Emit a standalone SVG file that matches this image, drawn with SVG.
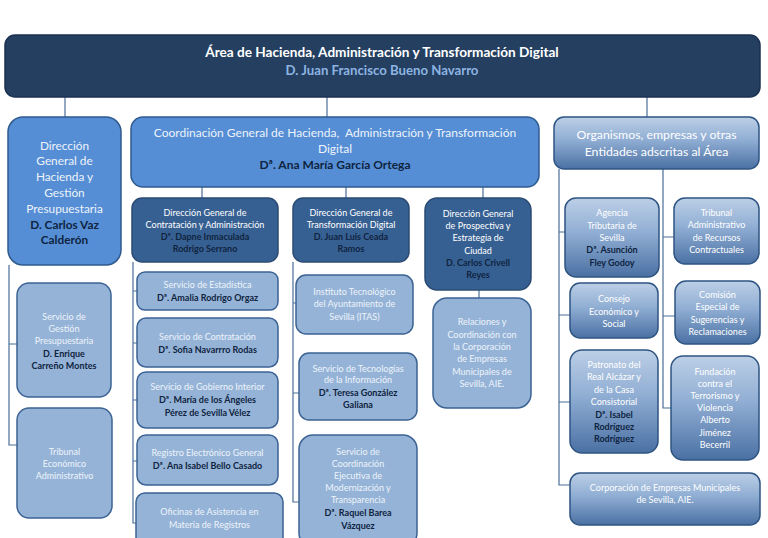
<svg xmlns="http://www.w3.org/2000/svg" width="768" height="538" viewBox="0 0 768 538">
<defs>
<linearGradient id="gloss" x1="0" y1="0" x2="0" y2="1">
<stop offset="0" stop-color="#BCCFE6"/>
<stop offset="0.45" stop-color="#8FADD3"/>
<stop offset="1" stop-color="#4A70A3"/>
</linearGradient>
<style>
text{font-family:Lato,"Open Sans","Liberation Sans",sans-serif;text-anchor:middle}
.top{fill:#243F60;stroke:#1B3150;stroke-width:1.5}
.mid{fill:#558ED5;stroke:#2F5A8E;stroke-width:1.5}
.dg{fill:#376092;stroke:#2A4B73;stroke-width:1.5}
.sv{fill:#95B3D7;stroke:#3B6394;stroke-width:1.5}
.gl{fill:url(#gloss);stroke:#2E5482;stroke-width:1.5}
.lt{fill:#EEF3FA}
.wt{fill:#FFFFFF}
.nm{fill:#0F2440;font-weight:bold}
.s9{font-size:9px}
.s11{font-size:12px}
.s12{font-size:11.8px}
.s12o{font-size:12.3px}
#connectors path{fill:none;stroke:#4A6E98;stroke-width:1.2}
</style>
</defs>
<rect width="768" height="538" fill="#FFFFFF"/>

<g id="connectors">
<path d="M65 97V117"/>
<path d="M327 97V117"/>
<path d="M647 97V117"/>
<path d="M9 265V445H17M9 344H17"/>
<path d="M202 187V198M346 187V198M483 187V198"/>
<path d="M133 262V523H137M133 291H137M133 343H137M133 400H137M133 461H137"/>
<path d="M293 262V502H299M293 303H296M293 393H299"/>
<path d="M479 290V298"/>
<path d="M559 169V485H570M559 232H565M559 315H570M559 402H570"/>
<path d="M663 169V408H671M663 237H674M663 316H675"/>
</g>

<g id="area">
<rect class="top" x="5" y="35" width="755" height="62" rx="10"/>
<text x="382" y="57" class="wt" style="font-size:13.6px;font-weight:bold">Área de Hacienda, Administración y Transformación Digital</text>
<text x="382" y="75" style="font-size:13.2px;font-weight:bold;fill:#8DB4E2">D. Juan Francisco Bueno Navarro</text>
</g>

<g id="dg-hacienda">
<rect class="mid" x="8" y="117" width="113" height="148" rx="15"/>
<text class="lt s12" x="64.5" y="150">Dirección</text>
<text class="lt s12" x="64.5" y="165">General de</text>
<text class="lt s12" x="64.5" y="181">Hacienda y</text>
<text class="lt s12" x="64.5" y="197">Gestión</text>
<text class="lt s12" x="64.5" y="213">Presupuestaria</text>
<text class="nm s12" x="64.5" y="229">D. Carlos Vaz</text>
<text class="nm s12" x="64.5" y="244">Calderón</text>
</g>

<g id="coordinacion">
<rect class="mid" x="131" y="117" width="408" height="70" rx="12"/>
<text class="lt s11" x="335" y="137" xml:space="preserve">Coordinación General de Hacienda,  Administración y Transformación</text>
<text class="lt s11" x="335" y="153">Digital</text>
<text class="nm s11" x="335" y="169">Dª. Ana María García Ortega</text>
</g>

<g id="organismos">
<rect class="gl" x="554" y="117" width="205" height="52" rx="10"/>
<text class="wt s12o" x="656.5" y="139">Organismos, empresas y otras</text>
<text class="wt s12o" x="656.5" y="156">Entidades adscritas al Área</text>
</g>

<g id="servicio-gestion">
<rect class="sv" x="17" y="283" width="94" height="114" rx="12"/>
<text class="lt s9" x="64" y="320">Servicio de</text>
<text class="lt s9" x="64" y="332">Gestión</text>
<text class="lt s9" x="64" y="344">Presupuestaria</text>
<text class="nm s9" x="64" y="357">D. Enrique</text>
<text class="nm s9" x="64" y="369">Carreño Montes</text>
</g>

<g id="tribunal-economico">
<rect class="sv" x="17" y="408" width="95" height="110" rx="12"/>
<text class="lt s9" x="64.5" y="455">Tribunal</text>
<text class="lt s9" x="64.5" y="467">Económico</text>
<text class="lt s9" x="64.5" y="479">Administrativo</text>
</g>

<g id="dg-contratacion">
<rect class="dg" x="132" y="198" width="146" height="64" rx="10"/>
<text class="wt s9" x="205" y="216">Dirección General de</text>
<text class="wt s9" x="205" y="228">Contratación y Administración</text>
<text class="nm s9" x="205" y="240">Dª. Dapne Inmaculada</text>
<text class="nm s9" x="205" y="252">Rodrigo Serrano</text>
</g>

<g id="dg-transformacion">
<rect class="dg" x="293" y="198" width="116" height="64" rx="10"/>
<text class="wt s9" x="351" y="216">Dirección General de</text>
<text class="wt s9" x="351" y="228">Transformación Digital</text>
<text class="nm s9" x="351" y="240">D. Juan Luis Ceada</text>
<text class="nm s9" x="351" y="252">Ramos</text>
</g>

<g id="dg-prospectiva">
<rect class="dg" x="425" y="198" width="106" height="92" rx="12"/>
<text class="wt s9" x="478" y="217">Dirección General</text>
<text class="wt s9" x="478" y="229">de Prospectiva y</text>
<text class="wt s9" x="478" y="241">Estrategia de</text>
<text class="wt s9" x="478" y="254">Ciudad</text>
<text class="nm s9" x="478" y="266">D. Carlos Crivell</text>
<text class="nm s9" x="478" y="278">Reyes</text>
</g>

<g id="servicio-estadistica">
<rect class="sv" x="137" y="272" width="141" height="38" rx="8"/>
<text class="lt s9" x="207.5" y="288">Servicio de Estadística</text>
<text class="nm s9" x="207.5" y="301">Dª. Amalia Rodrigo Orgaz</text>
</g>

<g id="servicio-contratacion">
<rect class="sv" x="137" y="318" width="141" height="49" rx="9"/>
<text class="lt s9" x="207.5" y="340">Servicio de Contratación</text>
<text class="nm s9" x="207.5" y="353">Dª. Sofia Navarrro Rodas</text>
</g>

<g id="servicio-gobierno">
<rect class="sv" x="137" y="372" width="141" height="56" rx="9"/>
<text class="lt s9" x="207.5" y="390">Servicio de Gobierno Interior</text>
<text class="nm s9" x="207.5" y="403">Dª. María de los Ángeles</text>
<text class="nm s9" x="207.5" y="416">Pérez de Sevilla Vélez</text>
</g>

<g id="registro">
<rect class="sv" x="137" y="435" width="141" height="50" rx="9"/>
<text class="lt s9" x="207.5" y="456">Registro Electrónico General</text>
<text class="nm s9" x="207.5" y="469">Dª. Ana Isabel Bello Casado</text>
</g>

<g id="oficinas">
<rect class="sv" x="136" y="493" width="147" height="56" rx="9"/>
<text class="lt s9" x="209.5" y="515">Oficinas de Asistencia en</text>
<text class="lt s9" x="209.5" y="528">Materia de Registros</text>
</g>

<g id="itas">
<rect class="sv" x="296" y="275" width="117" height="59" rx="10"/>
<text class="lt s9" x="354.5" y="295">Instituto Tecnológico</text>
<text class="lt s9" x="354.5" y="307">del Ayuntamiento de</text>
<text class="lt s9" x="354.5" y="320">Sevilla (ITAS)</text>
</g>

<g id="servicio-tecnologias">
<rect class="sv" x="299" y="353" width="118" height="67" rx="10"/>
<text class="lt s9" x="358" y="372">Servicio de Tecnologías</text>
<text class="lt s9" x="358" y="383">de la Información</text>
<text class="nm s9" x="358" y="396">Dª. Teresa González</text>
<text class="nm s9" x="358" y="408">Galiana</text>
</g>

<g id="servicio-coordinacion">
<rect class="sv" x="299" y="435" width="118" height="112" rx="14"/>
<text class="lt s9" x="358" y="455">Servicio de</text>
<text class="lt s9" x="358" y="467">Coordinación</text>
<text class="lt s9" x="358" y="479">Ejecutiva de</text>
<text class="lt s9" x="358" y="491">Modernización y</text>
<text class="lt s9" x="358" y="503">Transparencia</text>
<text class="nm s9" x="358" y="516">Dª. Raquel Barea</text>
<text class="nm s9" x="358" y="529">Vázquez</text>
</g>

<g id="relaciones">
<rect class="sv" x="433" y="298" width="98" height="110" rx="14"/>
<text class="lt s9" x="482" y="325">Relaciones y</text>
<text class="lt s9" x="482" y="338">Coordinación con</text>
<text class="lt s9" x="482" y="350">la Corporación</text>
<text class="lt s9" x="482" y="362">de Empresas</text>
<text class="lt s9" x="482" y="375">Municipales de</text>
<text class="lt s9" x="482" y="387">Sevilla, AIE.</text>
</g>

<g id="agencia-tributaria">
<rect class="gl" x="565" y="198" width="94" height="79" rx="11"/>
<text class="wt s9" x="612" y="216">Agencia</text>
<text class="wt s9" x="612" y="229">Tributaria de</text>
<text class="wt s9" x="612" y="241">Sevilla</text>
<text class="nm s9" x="612" y="253">Dª. Asunción</text>
<text class="nm s9" x="612" y="266">Fley Godoy</text>
</g>

<g id="tribunal-administrativo">
<rect class="gl" x="674" y="198" width="85" height="66" rx="11"/>
<text class="wt s9" x="716.5" y="216">Tribunal</text>
<text class="wt s9" x="716.5" y="228">Administrativo</text>
<text class="wt s9" x="716.5" y="241">de Recursos</text>
<text class="wt s9" x="716.5" y="253">Contractuales</text>
</g>

<g id="consejo">
<rect class="gl" x="570" y="283" width="88" height="55" rx="10"/>
<text class="wt s9" x="614" y="302">Consejo</text>
<text class="wt s9" x="614" y="315">Económico y</text>
<text class="wt s9" x="614" y="327">Social</text>
</g>

<g id="comision">
<rect class="gl" x="675" y="281" width="85" height="63" rx="11"/>
<text class="wt s9" x="717.5" y="298">Comisión</text>
<text class="wt s9" x="717.5" y="310">Especial de</text>
<text class="wt s9" x="717.5" y="323">Sugerencias y</text>
<text class="wt s9" x="717.5" y="335">Reclamaciones</text>
</g>

<g id="patronato">
<rect class="gl" x="570" y="350" width="88" height="103" rx="12"/>
<text class="wt s9" x="614" y="368">Patronato del</text>
<text class="wt s9" x="614" y="380">Real Alcázar y</text>
<text class="wt s9" x="614" y="393">de la Casa</text>
<text class="wt s9" x="614" y="405">Consistorial</text>
<text class="nm s9" x="614" y="418">Dª. Isabel</text>
<text class="nm s9" x="614" y="430">Rodríguez</text>
<text class="nm s9" x="614" y="442">Rodríguez</text>
</g>

<g id="fundacion">
<rect class="gl" x="671" y="356" width="88" height="104" rx="12"/>
<text class="wt s9" x="715" y="375">Fundación</text>
<text class="wt s9" x="715" y="387">contra el</text>
<text class="wt s9" x="715" y="399">Terrorismo y</text>
<text class="wt s9" x="715" y="411">Violencia</text>
<text class="wt s9" x="715" y="423">Alberto</text>
<text class="wt s9" x="715" y="436">Jiménez</text>
<text class="wt s9" x="715" y="448">Becerril</text>
</g>

<g id="corporacion">
<rect class="gl" x="570" y="473" width="190" height="52" rx="10"/>
<text class="wt s9" x="665" y="491">Corporación de Empresas Municipales</text>
<text class="wt s9" x="665" y="503">de Sevilla, AIE.</text>
</g>
</svg>
